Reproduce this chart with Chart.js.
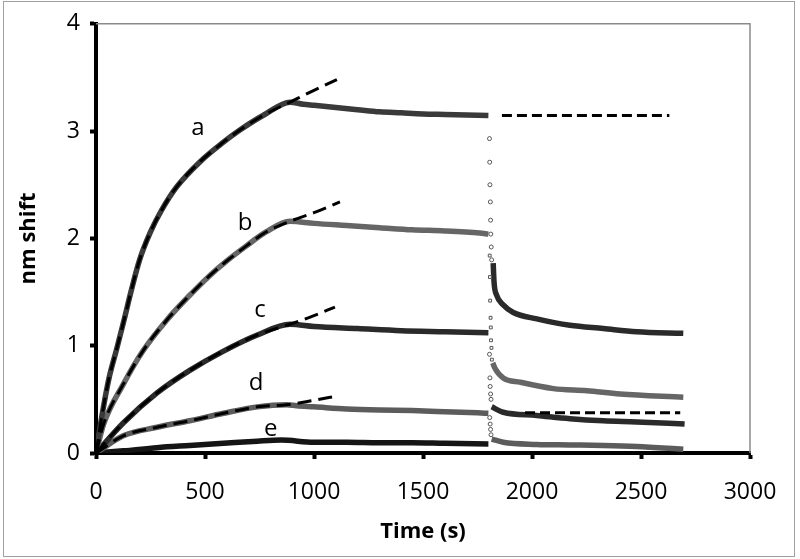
<!DOCTYPE html>
<html>
<head>
<meta charset="utf-8">
<script src="https://cdn.jsdelivr.net/npm/chart.js@4.4.1/dist/chart.umd.min.js"></script>
<style>
  html, body { margin: 0; padding: 0; background: #fff; }
  #wrap { width: 800px; height: 559px; }
</style>
</head>
<body>
<div id="wrap"><canvas id="shiftChart" width="800" height="559"></canvas></div>
<script>
"use strict";

/// DATA
// curve a
const aX = [0, 30, 60, 95, 130, 160, 200, 250, 300, 370, 480, 580, 660, 770, 890, 950, 1000, 1100, 1200, 1300, 1400, 1500, 1600, 1700, 1800];
const aY = [0, 0.38, 0.70, 0.97, 1.25, 1.50, 1.80, 2.06, 2.26, 2.48, 2.72, 2.89, 3.01, 3.15, 3.27, 3.25, 3.24, 3.22, 3.20, 3.18, 3.17, 3.16, 3.155, 3.15, 3.145];
const aFitX = [0, 30, 60, 95, 130, 160, 200, 250, 300, 370, 480, 580, 660, 770, 890, 1000, 1105];
const aFitY = [0, 0.38, 0.70, 0.97, 1.25, 1.50, 1.80, 2.06, 2.26, 2.48, 2.72, 2.89, 3.01, 3.15, 3.27, 3.38, 3.48];
const aDropX = [1805, 1806, 1807, 1809, 1810, 1811, 1813, 1815];
const aDropY = [2.93, 2.71, 2.50, 2.34, 2.17, 2.04, 1.92, 1.80];
const aTailX = [1822, 1826, 1838, 1868, 1914, 2022, 2174, 2327, 2480, 2694];
const aTailY = [1.77, 1.59, 1.47, 1.38, 1.31, 1.25, 1.19, 1.16, 1.13, 1.115];
const aHoldX = [1862, 2630];
const aHoldY = [3.145, 3.145];

// curve b
const bX = [0, 35, 125, 215, 325, 430, 520, 600, 690, 780, 890, 1000, 1150, 1300, 1450, 1600, 1760, 1800];
const bY = [0, 0.27, 0.64, 0.95, 1.24, 1.47, 1.65, 1.79, 1.93, 2.06, 2.16, 2.14, 2.12, 2.10, 2.08, 2.07, 2.05, 2.04];
const bFitX = [0, 35, 125, 215, 325, 430, 520, 600, 690, 780, 890, 1000, 1119];
const bFitY = [0, 0.27, 0.64, 0.95, 1.24, 1.47, 1.65, 1.79, 1.93, 2.06, 2.16, 2.24, 2.34];
const bDropX = [1806, 1807, 1808, 1810, 1811, 1812, 1814, 1816];
const bDropY = [1.84, 1.64, 1.42, 1.26, 1.17, 1.05, 0.98, 0.87];
const bTailX = [1820, 1830, 1868, 1945, 2098, 2251, 2404, 2694];
const bTailY = [0.84, 0.79, 0.70, 0.66, 0.60, 0.58, 0.55, 0.52];

// curve c
const cX = [0, 125, 280, 430, 585, 740, 890, 1000, 1200, 1400, 1600, 1800];
const cY = [0, 0.28, 0.56, 0.77, 0.95, 1.10, 1.20, 1.18, 1.16, 1.14, 1.13, 1.12];
const cFitX = [0, 125, 280, 430, 585, 740, 890, 1000, 1096];
const cFitY = [0, 0.28, 0.56, 0.77, 0.95, 1.10, 1.20, 1.28, 1.36];
const cDropX = [1805, 1807, 1808, 1810, 1812];
const cDropY = [0.92, 0.70, 0.62, 0.55, 0.50];
const cTailX = [1815, 1868, 2022, 2174, 2327, 2480, 2700];
const cTailY = [0.43, 0.38, 0.35, 0.32, 0.30, 0.29, 0.27];

// curve d
const dX = [0, 125, 280, 430, 585, 740, 875, 920, 1000, 1150, 1300, 1450, 1600, 1750, 1800];
const dY = [0, 0.16, 0.24, 0.30, 0.37, 0.43, 0.45, 0.44, 0.43, 0.41, 0.40, 0.395, 0.385, 0.374, 0.37];
const dFitX = [0, 125, 280, 430, 585, 740, 875, 997, 1104];
const dFitY = [0, 0.16, 0.24, 0.30, 0.37, 0.43, 0.45, 0.49, 0.53];
const dDropX = [1806, 1808, 1810, 1812];
const dDropY = [0.33, 0.27, 0.22, 0.17];
const dTailX = [1815, 1868, 2022, 2174, 2327, 2480, 2694];
const dTailY = [0.13, 0.10, 0.08, 0.075, 0.07, 0.06, 0.035];
const dHoldX = [1968, 2680];
const dHoldY = [0.374, 0.374];

// curve e
const eX = [0, 125, 280, 430, 585, 740, 850, 1000, 1150, 1300, 1450, 1600, 1800];
const eY = [0, 0.02, 0.05, 0.07, 0.09, 0.11, 0.12, 0.10, 0.10, 0.095, 0.095, 0.09, 0.085];

// curve letters
const letterText = ['a', 'b', 'c', 'd', 'e'];
const letterX = [468, 684, 752, 734, 802];
const letterY = [3.03, 2.14, 1.33, 0.65, 0.22];

const fontFamily = "'Open Sans', sans-serif";
const dark = '#2a2a2a';
const grey = '#5c5c5c';

const xy = (xs, ys) => xs.map((x, i) => ({ x: x, y: ys[i] }));

const trace = (xs, ys, color) => ({
    data: xy(xs, ys),
    showLine: true,
    borderColor: color,
    borderWidth: 5.5,
    pointRadius: 0,
    cubicInterpolationMode: 'monotone',
    fill: false
});

const fitLine = (xs, ys, dash) => ({
    data: xy(xs, ys),
    showLine: true,
    borderColor: '#000',
    borderWidth: 3,
    borderDash: dash,
    pointRadius: 0,
    cubicInterpolationMode: 'monotone',
    fill: false
});

const dropDots = (xs, ys, style) => ({
    data: xy(xs, ys),
    showLine: false,
    pointStyle: style,
    pointRadius: 2,
    borderColor: '#555',
    backgroundColor: '#fff',
    borderWidth: 1
});

// letters on the curves, plus the grey frame lines
const decorations = {
    id: 'decorations',
    afterDatasetsDraw(chart) {
        const ctx = chart.ctx;
        const area = chart.chartArea;
        const xs = chart.scales.x;
        const ys = chart.scales.y;
        ctx.save();
        ctx.strokeStyle = '#8a8a8a';
        ctx.lineWidth = 1.5;
        ctx.beginPath();
        ctx.moveTo(area.left, area.top);
        ctx.lineTo(area.right, area.top);
        ctx.lineTo(area.right, area.bottom);
        ctx.stroke();

        ctx.fillStyle = '#000';
        ctx.font = "24px " + fontFamily;
        ctx.textAlign = 'center';
        ctx.textBaseline = 'middle';
        letterText.forEach((t, i) => {
            ctx.fillText(t, xs.getPixelForValue(letterX[i]), ys.getPixelForValue(letterY[i]));
        });

        ctx.strokeStyle = '#a0a0a0';
        ctx.lineWidth = 1;
        ctx.strokeRect(3.5, 1.5, 791, 555);
        ctx.restore();
    }
};

const ctx = document.getElementById('shiftChart');

new Chart(ctx, {
    type: 'scatter',
    data: {
        datasets: [
            fitLine(aFitX, aFitY, [14, 7]),
            fitLine(bFitX, bFitY, [14, 7]),
            fitLine(cFitX, cFitY, [14, 7]),
            fitLine(dFitX, dFitY, [14, 7]),
            fitLine(aHoldX, aHoldY, [10, 5]),
            fitLine(dHoldX, dHoldY, [10, 5]),
            dropDots(aDropX, aDropY, 'circle'),
            dropDots(bDropX, bDropY, 'rect'),
            dropDots(cDropX, cDropY, 'circle'),
            dropDots(dDropX, dDropY, 'circle'),
            trace(aX, aY, '#3a3a3a'),
            trace(aTailX, aTailY, dark),
            trace(bX, bY, '#666'),
            trace(bTailX, bTailY, '#666'),
            trace(cX, cY, dark),
            trace(cTailX, cTailY, dark),
            trace(dX, dY, grey),
            trace(dTailX, dTailY, grey),
            trace(eX, eY, '#151515')
        ]
    },
    options: {
        responsive: false,
        animation: false,
        layout: {
            padding: { top: 18, right: 50, left: 0, bottom: 0 }
        },
        plugins: {
            legend: { display: false },
            tooltip: { enabled: false }
        },
        scales: {
            x: {
                type: 'linear',
                min: 0,
                max: 3000,
                ticks: {
                    stepSize: 500,
                    color: '#000',
                    padding: 20,
                    font: { family: fontFamily, size: 23 },
                    callback: (value) => String(value)
                },
                grid: {
                    drawOnChartArea: false,
                    tickLength: 6,
                    tickWidth: 4,
                    tickColor: '#000'
                },
                border: { color: '#000', width: 4 },
                title: {
                    display: true,
                    text: 'Time (s)',
                    color: '#000',
                    font: { family: fontFamily, size: 22, weight: 'bold' },
                    padding: { top: 0, bottom: 14 }
                },
                afterFit: (scale) => { scale.height = 106; }
            },
            y: {
                min: 0,
                max: 4,
                ticks: {
                    stepSize: 1,
                    color: '#000',
                    padding: 10,
                    font: { family: fontFamily, size: 23 },
                    callback: (value) => String(value)
                },
                grid: {
                    drawOnChartArea: false,
                    tickLength: 6,
                    tickWidth: 4,
                    tickColor: '#000'
                },
                border: { color: '#000', width: 4 },
                title: {
                    display: true,
                    text: 'nm shift',
                    color: '#000',
                    font: { family: fontFamily, size: 22, weight: 'bold' },
                    padding: { top: 16, bottom: 0 }
                },
                afterFit: (scale) => { scale.width = 96; }
            }
        }
    },
    plugins: [decorations]
});
</script>
</body>
</html>
